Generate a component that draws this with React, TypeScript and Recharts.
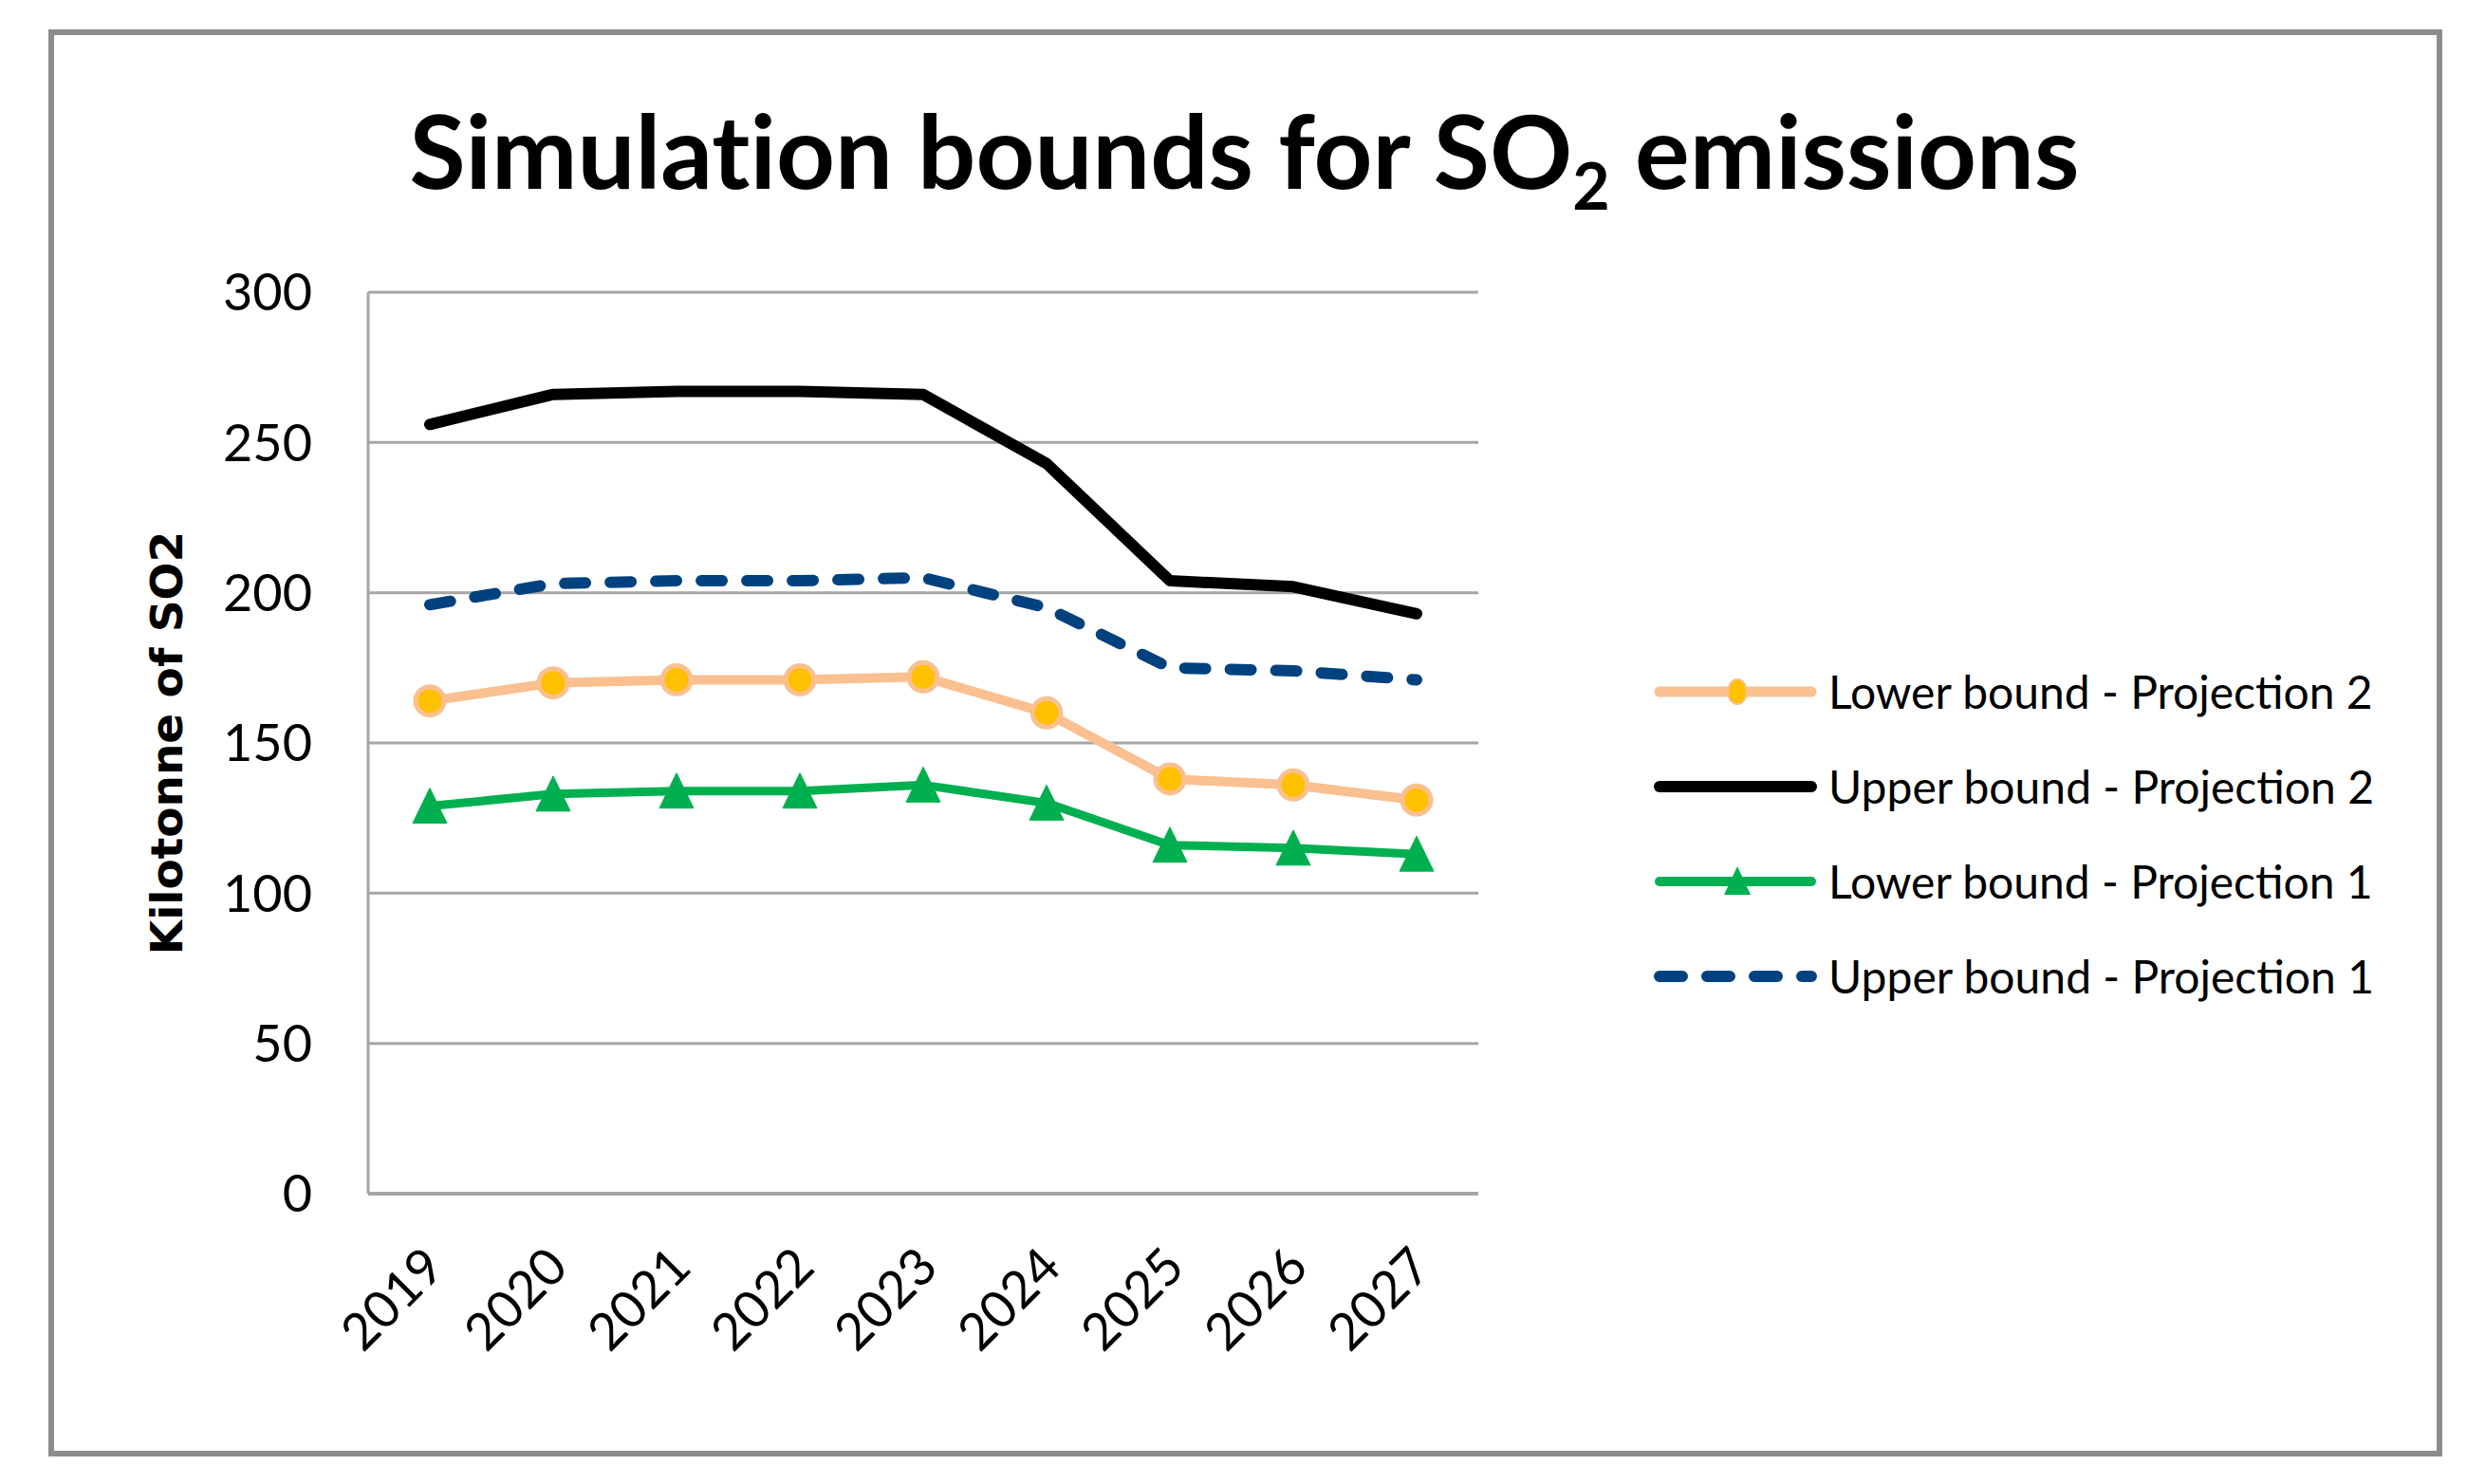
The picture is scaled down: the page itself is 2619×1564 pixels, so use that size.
import React from 'react';
import { LineChart, Line, XAxis, YAxis, CartesianGrid, Legend } from 'recharts';

const years = ['2019', '2020', '2021', '2022', '2023', '2024', '2025', '2026', '2027'];
const lowerP2 = [164, 170, 171, 171, 172, 160, 138, 136, 131];
const upperP2 = [256, 266, 267, 267, 266, 243, 204, 202, 193];
const lowerP1 = [129, 133, 134, 134, 136, 130, 116, 115, 113];
const upperP1 = [196, 203, 204, 204, 205, 195, 175, 174, 171];
const yTicks = [0, 50, 100, 150, 200, 250, 300];

const seriesNames = {
  lowerP2: 'Lower bound - Projection 2',
  upperP2: 'Upper bound - Projection 2',
  lowerP1: 'Lower bound - Projection 1',
  upperP1: 'Upper bound - Projection 1',
};

const data = years.map((y, i) => ({
  year: y,
  lowerP2: lowerP2[i],
  upperP2: upperP2[i],
  lowerP1: lowerP1[i],
  upperP1: upperP1[i],
}));

const ORANGE = '#FAC090';
const YELLOW = '#FFC000';
const GREEN = '#00B050';
const BLUE = '#00427F';
const GRID = '#A6A6A6';

const XTick = (props: any) => {
  const { x, y, payload } = props;
  const ax = x + 18;
  const ay = y + 80;
  return (
    <text
      x={ax}
      y={ay}
      transform={`rotate(-45, ${ax}, ${ay})`}
      textAnchor="end"
      fontFamily="Lato"
      fontSize={54}
      fill="#000"
    >
      {payload.value}
    </text>
  );
};

const CircleDot = (p: any) => {
  if (p.cx == null || p.cy == null) return null;
  return <circle key={`c${p.index}`} cx={p.cx} cy={p.cy} r={15} fill={YELLOW} stroke={ORANGE} strokeWidth={5} />;
};

const TriDot = (p: any) => {
  if (p.cx == null || p.cy == null) return null;
  const { cx, cy } = p;
  return (
    <polygon
      key={`t${p.index}`}
      points={`${cx},${cy - 19} ${cx - 18},${cy + 18} ${cx + 18},${cy + 18}`}
      fill={GREEN}
      stroke={GREEN}
      strokeWidth={1}
      strokeLinejoin="round"
    />
  );
};

const YLabel = (props: any) => {
  const vb = props.viewBox || {};
  const cy = (vb.y || 0) + (vb.height || 0) / 2;
  const bx = 192;
  return (
    <text
      x={bx}
      y={cy}
      transform={`rotate(-90, ${bx}, ${cy})`}
      textAnchor="middle"
      fontFamily="DejaVu Sans"
      fontWeight="bold"
      fontSize={47}
      fill="#000"
    >
      Kilotonne of SO2
    </text>
  );
};

const legendItems = [
  { key: 'lowerP2', kind: 'circle' },
  { key: 'upperP2', kind: 'solid' },
  { key: 'lowerP1', kind: 'tri' },
  { key: 'upperP1', kind: 'dash' },
];

const LegendContent = () => (
  <div>
    {legendItems.map((it) => (
      <div key={it.key} style={{ display: 'flex', alignItems: 'center', height: 100 }}>
        <svg width={186} height={40} style={{ display: 'block' }}>
          {it.kind === 'circle' && (
            <g>
              <line x1={8} y1={20} x2={168} y2={20} stroke={ORANGE} strokeWidth={11} strokeLinecap="round" />
              <ellipse cx={90} cy={20} rx={10} ry={13} fill={YELLOW} stroke={ORANGE} strokeWidth={2} />
            </g>
          )}
          {it.kind === 'solid' && (
            <line x1={8} y1={20} x2={168} y2={20} stroke="#000" strokeWidth={12} strokeLinecap="round" />
          )}
          {it.kind === 'tri' && (
            <g>
              <line x1={8} y1={20} x2={168} y2={20} stroke={GREEN} strokeWidth={10} strokeLinecap="round" />
              <polygon points="90,4 76,34 104,34" fill={GREEN} />
            </g>
          )}
          {it.kind === 'dash' && (
            <line x1={8} y1={20} x2={168} y2={20} stroke={BLUE} strokeWidth={12} strokeLinecap="round" strokeDasharray="24 26" />
          )}
        </svg>
        <span style={{ fontFamily: 'Lato', fontSize: 48, color: '#000', whiteSpace: 'nowrap', lineHeight: 1 }}>
          {(seriesNames as any)[it.key]}
        </span>
      </div>
    ))}
  </div>
);

export default function App() {
  return (
    <div style={{ position: 'fixed', left: 0, top: 0, width: 2619, height: 1564, background: '#fff', overflow: 'hidden' }}>
      <div
        style={{
          position: 'absolute',
          left: 51,
          top: 31,
          width: 2523,
          height: 1504,
          boxSizing: 'border-box',
          border: '6px solid #8C8C8C',
        }}
      />
      <div
        style={{
          position: 'absolute',
          left: 0,
          width: 2619,
          top: 82,
          textAlign: 'center',
          fontFamily: 'Lato',
          fontWeight: 'bold',
          fontSize: 108,
          lineHeight: '150px',
          color: '#000',
          fontVariantLigatures: 'none',
        }}
      >
        <span style={{ position: 'relative', left: 2 }}>
          Simulation bounds for SO<sub style={{ fontSize: 68, verticalAlign: 'baseline', position: 'relative', top: 22 }}>2</sub> emissions
        </span>
      </div>
      <div style={{ position: 'absolute', left: 0, top: 0 }}>
        <LineChart
          width={2619}
          height={1564}
          data={data}
          margin={{ top: 308, right: 1061, bottom: 206, left: 288 }}
        >
          <CartesianGrid vertical={false} stroke={GRID} strokeWidth={3} />
          <XAxis
            dataKey="year"
            interval={0}
            padding={{ left: 65, right: 65 }}
            tickLine={false}
            tickSize={0}
            tickMargin={0}
            height={100}
            axisLine={{ stroke: GRID, strokeWidth: 4 }}
            tick={<XTick />}
          />
          <YAxis
            domain={[0, 300]}
            ticks={yTicks}
            width={100}
            tickLine={false}
            tickSize={0}
            tickMargin={59}
            axisLine={{ stroke: GRID, strokeWidth: 3 }}
            tick={{ fontFamily: 'Lato', fontSize: 54, fill: '#000' }}
            label={<YLabel />}
          />
          <Legend
            layout="vertical"
            align="center"
            verticalAlign="middle"
            wrapperStyle={{ left: 1741, top: 679, width: 860 }}
            content={<LegendContent />}
          />
          <Line
            type="linear"
            dataKey="lowerP2"
            name={seriesNames.lowerP2}
            stroke={ORANGE}
            strokeWidth={10}
            strokeLinejoin="round"
            dot={CircleDot}
            activeDot={false}
            isAnimationActive={false}
          />
          <Line
            type="linear"
            dataKey="upperP2"
            name={seriesNames.upperP2}
            stroke="#000"
            strokeWidth={12}
            strokeLinejoin="round"
            strokeLinecap="round"
            dot={false}
            activeDot={false}
            isAnimationActive={false}
          />
          <Line
            type="linear"
            dataKey="lowerP1"
            name={seriesNames.lowerP1}
            stroke={GREEN}
            strokeWidth={9}
            strokeLinejoin="round"
            dot={TriDot}
            activeDot={false}
            isAnimationActive={false}
          />
          <Line
            type="linear"
            dataKey="upperP1"
            name={seriesNames.upperP1}
            stroke={BLUE}
            strokeWidth={12}
            strokeLinejoin="round"
            strokeLinecap="round"
            strokeDasharray="22 26"
            dot={false}
            activeDot={false}
            isAnimationActive={false}
          />
        </LineChart>
      </div>
    </div>
  );
}
